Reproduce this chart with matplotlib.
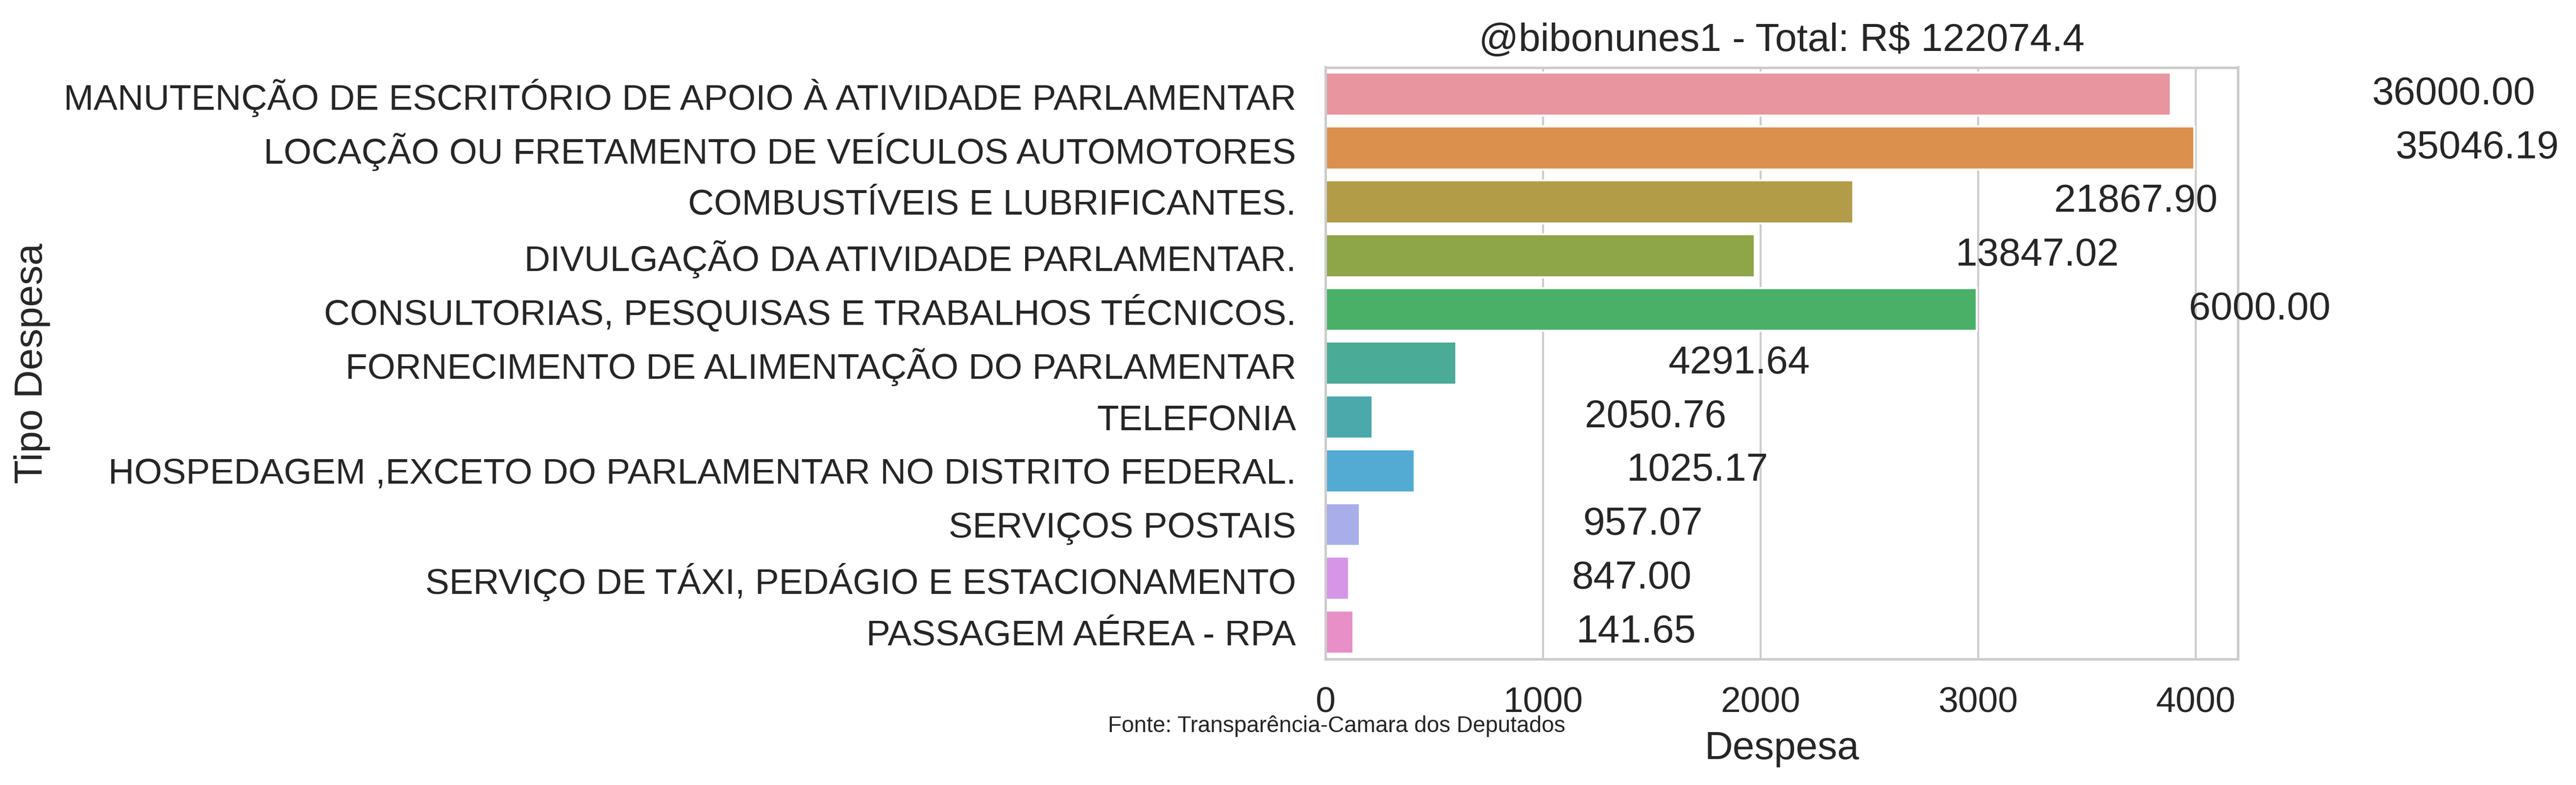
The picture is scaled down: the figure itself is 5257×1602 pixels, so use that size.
import matplotlib
matplotlib.use("Agg")
import matplotlib.pyplot as plt
import seaborn as sns

# ---- data ----
categorias = [
    "MANUTENÇÃO DE ESCRITÓRIO DE APOIO À ATIVIDADE PARLAMENTAR",
    "LOCAÇÃO OU FRETAMENTO DE VEÍCULOS AUTOMOTORES",
    "COMBUSTÍVEIS E LUBRIFICANTES.",
    "DIVULGAÇÃO DA ATIVIDADE PARLAMENTAR.",
    "CONSULTORIAS, PESQUISAS E TRABALHOS TÉCNICOS.",
    "FORNECIMENTO DE ALIMENTAÇÃO DO PARLAMENTAR",
    "TELEFONIA",
    "HOSPEDAGEM ,EXCETO DO PARLAMENTAR NO DISTRITO FEDERAL.",
    "SERVIÇOS POSTAIS",
    "SERVIÇO DE TÁXI, PEDÁGIO E ESTACIONAMENTO",
    "PASSAGEM AÉREA - RPA",
]
valores_barras = [3886, 3994, 2425, 1972, 2993, 601, 217, 411, 158, 108, 129]
totais = [36000.00, 35046.19, 21867.90, 13847.02, 6000.00, 4291.64,
          2050.76, 1025.17, 957.07, 847.00, 141.65]
usuario = "@bibonunes1"
fonte = "Fonte: Transparência-Camara dos Deputados"

# ---- style ----
cores = ["#E9959F", "#DB904E", "#B39C48", "#8EA548", "#4AB068", "#4AAB96",
         "#4BA8AB", "#53ABD3", "#A9ADE9", "#D795E7", "#E88FC8"]

sns.set_theme(style="whitegrid", font_scale=1.6)
plt.rcParams["font.family"] = ["Liberation Sans", "DejaVu Sans"]

W, H, DPI = 5257, 1602, 300
fig = plt.figure(figsize=(W / DPI, H / DPI), dpi=DPI)
ax = fig.add_axes([2705 / W, 1 - 1345 / H, (4567 - 2705) / W, (1345 - 137.5) / H])

sns.barplot(x=valores_barras, y=categorias, hue=categorias, palette=cores,
            saturation=1, legend=False, orient="h", ax=ax)

offset = 1300
for i, (v, t) in enumerate(zip(valores_barras, totais)):
    ax.text(v + offset, i, f"{t:.2f}", ha="center", va="center", color=".15")

total = sum(totais)
ax.set_title(f"{usuario} - Total: R$ {round(total, 1)}", pad=8)
ax.set_xticks([0, 1000, 2000, 3000, 4000])
ax.tick_params(axis="x", length=0, pad=13.4)
ax.tick_params(axis="y", length=0, pad=14.4)
ax.set_xlabel("Despesa", labelpad=5.5)
ax.set_ylabel("Tipo Despesa", labelpad=6.4)

fig.text(2261 / W, 1 - 1494 / H, fonte, fontsize=11, va="baseline", ha="left", color=".15")

fig.savefig("out.png", dpi=DPI)
